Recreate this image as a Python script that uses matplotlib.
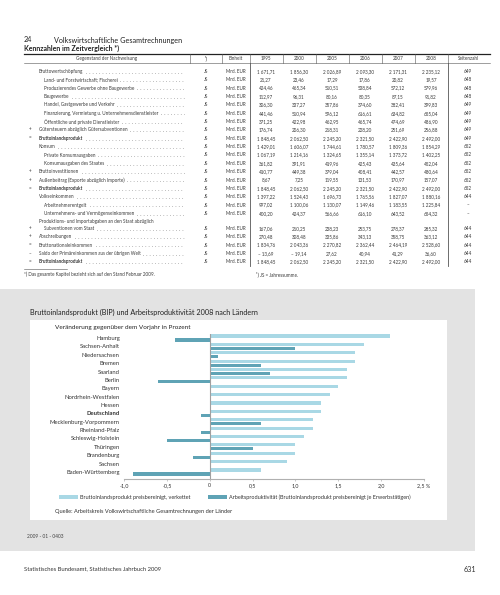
import numpy as np
import matplotlib
matplotlib.use('Agg')
import matplotlib.pyplot as plt
from matplotlib.patches import Rectangle
from matplotlib.lines import Line2D

plt.rcParams['font.family'] = ['Lato', 'DejaVu Sans']

# ---- table data (Kennzahlen im Zeitvergleich) ----
years = ['1995', '2000', '2005', '2006', '2007', '2008']
ops = ['', '', '', '', '', '', '', '+', '=', '', '', '', '+', '+', '=',
       '', '', '', '+', '+', '=', '–', '=']
labels = ['Bruttowertschöpfung',
          'Land- und Forstwirtschaft; Fischerei',
          'Produzierendes Gewerbe ohne Baugewerbe',
          'Baugewerbe',
          'Handel, Gastgewerbe und Verkehr',
          'Finanzierung, Vermietung u. Unternehmensdienstleister',
          'Öffentliche und private Dienstleister',
          'Gütersteuern abzüglich Gütersubventionen',
          'Bruttoinlandsprodukt',
          'Konsum',
          'Private Konsumausgaben',
          'Konsumausgaben des Staates',
          'Bruttoinvestitionen',
          'Außenbeitrag (Exporte abzüglich Importe)',
          'Bruttoinlandsprodukt',
          'Volkseinkommen',
          'Arbeitnehmerentgelt',
          'Unternehmens- und Vermögenseinkommen',
          'Subventionen vom Staat',
          'Abschreibungen',
          'Bruttonationaleinkommen',
          'Saldo der Primäreinkommen aus der übrigen Welt',
          'Bruttoinlandsprodukt']
sub_rows = [1, 2, 3, 4, 5, 6, 10, 11, 16, 17, 18]
bold_rows = [8, 14, 22]
v1995 = [1671.71, 21.27, 424.46, 112.97, 306.30, 441.46, 371.25, 176.74, 1848.45,
         1429.01, 1067.19, 361.82, 410.77, 8.67, 1848.45, 1397.22, 997.02, 400.20,
         167.06, 270.48, 1834.76, -13.69, 1848.45]
v2000 = [1856.30, 23.46, 465.34, 96.31, 337.27, 510.94, 422.98, 206.30, 2062.50,
         1606.07, 1214.16, 391.91, 449.38, 7.25, 2062.50, 1524.43, 1100.06, 424.37,
         210.25, 308.48, 2043.36, -19.14, 2062.50]
v2005 = [2026.89, 17.29, 510.51, 80.16, 357.86, 596.12, 462.95, 218.31, 2245.20,
         1744.61, 1324.65, 419.96, 379.04, 119.55, 2245.20, 1696.73, 1130.07, 566.66,
         238.23, 335.86, 2270.82, 27.62, 2245.20]
v2006 = [2093.30, 17.86, 538.84, 80.35, 374.60, 616.61, 465.74, 228.20, 2321.50,
         1780.57, 1355.14, 425.43, 408.41, 131.53, 2321.50, 1765.56, 1149.46, 616.10,
         253.75, 343.13, 2362.44, 40.94, 2321.50]
v2007 = [2171.31, 20.82, 572.12, 87.15, 382.41, 634.82, 474.69, 251.69, 2422.90,
         1809.36, 1373.72, 435.64, 442.57, 170.97, 2422.90, 1827.07, 1183.55, 643.52,
         278.37, 358.75, 2464.19, 41.29, 2422.90]
v2008 = [2235.12, 19.57, 579.96, 91.82, 399.83, 655.04, 486.90, 256.88, 2492.00,
         1854.29, 1402.25, 452.04, 480.64, 157.07, 2492.00, 1880.16, 1225.84, 654.32,
         285.32, 363.12, 2528.60, 36.60, 2492.00]
pages = ['649', '648', '648', '648', '649', '649', '649', '649', '649',
         '652', '652', '652', '652', '652', '652', '644', '–', '–',
         '644', '644', '644', '644', '644']

# ---- chart data ----
laender = ['Hamburg', 'Sachsen-Anhalt', 'Niedersachsen', 'Bremen', 'Saarland', 'Berlin',
           'Bayern', 'Nordrhein-Westfalen', 'Hessen', 'Deutschland',
           'Mecklenburg-Vorpommern', 'Rheinland-Pfalz', 'Schleswig-Holstein',
           'Thüringen', 'Brandenburg', 'Sachsen', 'Baden-Württemberg']
bip = [2.1, 1.8, 1.7, 1.7, 1.6, 1.6, 1.5, 1.4, 1.3, 1.3, 1.2, 1.2, 1.1, 1.0, 1.0, 0.9, 0.6]
produktivitaet = [-0.4, 1.0, 0.1, 0.6, 0.7, -0.6, 0.0, 0.0, 0.0, -0.1, 0.6, -0.1, -0.5,
                  0.5, -0.2, 0.0, -0.9]
xticks = [-1.0, -0.5, 0, 0.5, 1.0, 1.5, 2.0, 2.5]
xticklabels = ['-1,0', '-0,5', '0', '0,5', '1,0', '1,5', '2,0', '2,5 %']

W, H = 500, 595
fig = plt.figure(figsize=(5, 5.95), dpi=100)
TXT = '#3a3a3a'
LIGHT = '#a9d8e5'
DARK = '#5fa3b5'


def fx(x):
    return x / W


def fy(y):
    return 1 - y / H


def txt(x, y, s, size, ha='left', weight='normal', color=TXT):
    return fig.text(fx(x), fy(y), s, fontsize=size, ha=ha, va='center',
                    fontweight=weight, color=color)


def hline(x0, x1, y, lw=0.5, color='#555555', **kw):
    fig.add_artist(Line2D([fx(x0), fx(x1)], [fy(y), fy(y)], transform=fig.transFigure,
                          lw=lw, color=color, **kw))


def vline(x, y0, y1, lw=0.5, color='#555555'):
    fig.add_artist(Line2D([fx(x), fx(x)], [fy(y0), fy(y1)], transform=fig.transFigure,
                          lw=lw, color=color))


def fmt(v):
    s = f'{abs(v):,.2f}'.replace(',', ' ').replace('.', ',')
    return ('– ' + s) if v < 0 else s


# page header
txt(24, 40, '24', 5.2, color='#222222')
txt(54, 40, 'Volkswirtschaftliche Gesamtrechnungen', 5.2, color='#222222')
txt(24, 48, 'Kennzahlen im Zeitvergleich *)', 5.0, weight='bold', color='#222222')

# table frame
ts = 3.3
hline(24, 490, 53.5, lw=0.9, color='#222222')
hline(24, 490, 63, lw=0.4)
for sx in [190, 222, 250, 283, 316, 349, 382, 415, 448]:
    vline(sx, 53.5, 63, lw=0.4)
vline(250, 63, 266, lw=0.6)
vline(448, 63, 266, lw=0.6)

col_c = [266, 299, 332, 365, 398, 431]
txt(107, 58.5, 'Gegenstand der Nachweisung', ts, ha='center')
txt(206, 58.5, '¹)', ts, ha='center')
txt(236, 58.5, 'Einheit', ts, ha='center')
for c, yr in zip(col_c, years):
    txt(c, 58.5, yr, ts, ha='center')
txt(468, 58.5, 'Seitenzahl', ts, ha='center')

row_y = [71.5 + 8.35 * i + (6.6 if i >= 18 else 0) for i in range(len(labels))]
label_texts = []
for i, lab in enumerate(labels):
    y = row_y[i]
    x = 44 if i in sub_rows else 39
    if ops[i]:
        txt(30, y, ops[i], ts, ha='center')
    if i == 18:
        txt(39, y - 6.6, 'Produktions- und Importabgaben an den Staat abzüglich', ts)
    t = txt(x, y, lab, ts, weight='bold' if i in bold_rows else 'normal')
    label_texts.append((t, y))
    txt(206, y, 'JS', ts, ha='center')
    txt(236, y, 'Mrd. EUR', ts, ha='center')
    for c, col in zip(col_c, [v1995, v2000, v2005, v2006, v2007, v2008]):
        txt(c, y, fmt(col[i]), ts, ha='center')
    txt(468, y, pages[i], ts, ha='center')

# dot leaders
fig.canvas.draw()
r = fig.canvas.get_renderer()
for t, y in label_texts:
    bb = t.get_window_extent(r)
    x_end = bb.x1 * W / fig.bbox.width
    if x_end < 180:
        hline(x_end + 2.5, 184, y + 1.2, lw=0.55, color='#777777',
              dashes=(0.1, 4.2), dash_capstyle='round')

hline(24, 67, 269, lw=0.4)
txt(24, 274.5, '*) Das gesamte Kapitel bezieht sich auf den Stand Februar 2009.', ts)
txt(256, 274.5, '¹) JS = Jahressumme.', ts)

# grey chart panel and white box
fig.add_artist(Rectangle((fx(0), fy(551)), fx(475), (551 - 289) / H,
                         transform=fig.transFigure, facecolor='#e3e3e3',
                         edgecolor='none', zorder=-3))
fig.add_artist(Rectangle((fx(30), fy(520)), fx(447 - 30), (520 - 320) / H,
                         transform=fig.transFigure, facecolor='white',
                         edgecolor='none', zorder=-2))

txt(30, 312, 'Bruttoinlandsprodukt (BIP) und Arbeitsproduktivität 2008 nach Ländern',
    5.25, color='#222222')
txt(55, 327, 'Veränderung gegenüber dem Vorjahr in Prozent', 4.6, color='#222222')

ax = fig.add_axes([fx(124), fy(479), 300 / W, (479 - 334) / H])
ax.patch.set_visible(False)
ys = np.arange(len(laender))
ax.barh(ys - 0.24, bip, height=0.38, color=LIGHT, zorder=2)
ax.barh(ys + 0.24, produktivitaet, height=0.38, color=DARK, zorder=2)
ax.axvline(0, color='#a0a0a0', lw=0.8, zorder=3)
ax.set_xlim(-1.0, 2.5)
ax.set_ylim(16.84, -0.48)
for s in ['left', 'right', 'top']:
    ax.spines[s].set_visible(False)
ax.spines['bottom'].set_color('#b0b0b0')
ax.spines['bottom'].set_linewidth(0.8)
ax.set_xticks(xticks)
ax.set_xticklabels(xticklabels, fontsize=3.9, color='#333333')
ax.tick_params(axis='x', length=1.5, width=0.5, color='#b0b0b0', pad=1.5)
ax.set_yticks(ys)
ax.set_yticklabels(laender, fontsize=4.2, color='#333333')
ax.tick_params(axis='y', length=0, pad=3)
ax.get_yticklabels()[laender.index('Deutschland')].set_fontweight('bold')

# legend
fig.add_artist(Rectangle((fx(59), fy(499)), 19 / W, 4 / H, transform=fig.transFigure,
                         facecolor=LIGHT, edgecolor='none'))
txt(80, 497, 'Bruttoinlandsprodukt preisbereinigt, verkettet', 4.0, color='#333333')
fig.add_artist(Rectangle((fx(208), fy(499)), 19 / W, 4 / H, transform=fig.transFigure,
                         facecolor=DARK, edgecolor='none'))
txt(229, 497, 'Arbeitsproduktivität (Bruttoinlandsprodukt preisbereinigt je Erwerbstätigen)',
    4.0, color='#333333')
txt(55, 511, 'Quelle: Arbeitskreis Volkswirtschaftliche Gesamtrechnungen der Länder', 4.1,
    color='#333333')

txt(27, 536, '2009 - 01 - 0403', 3.5, color='#444444')
txt(24, 569, 'Statistisches Bundesamt, Statistisches Jahrbuch 2009', 4.2, color='#333333')
txt(476, 569, '631', 5.2, ha='right', color='#333333')

fig.savefig('out.png', dpi=100)
